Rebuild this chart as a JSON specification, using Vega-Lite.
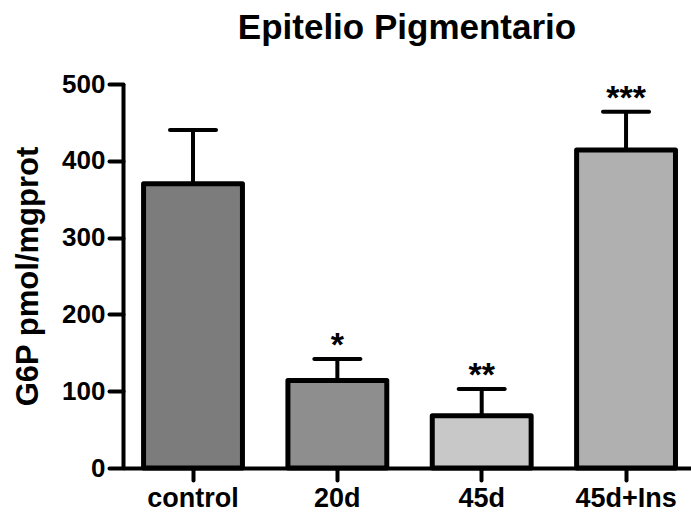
{
  "$schema": "https://vega.github.io/schema/vega-lite/v6.json",
  "width": 568,
  "height": 384,
  "autosize": "none",
  "padding": {"left": 123, "top": 84, "right": 0, "bottom": 46},
  "background": "white",
  "title": {
    "text": "Epitelio Pigmentario",
    "font": "Liberation Sans",
    "fontSize": 35,
    "fontWeight": "bold",
    "color": "black",
    "anchor": "middle",
    "offset": 25
  },
  "config": {
    "view": {"stroke": null},
    "font": "Liberation Sans"
  },
  "data": {
    "values": [
      {"group": "control", "mean": 370, "upper": 440, "sig": "", "fill": "#7c7c7c"},
      {"group": "20d", "mean": 114, "upper": 142, "sig": "*", "fill": "#8e8e8e"},
      {"group": "45d", "mean": 68, "upper": 103, "sig": "**", "fill": "#c8c8c8"},
      {"group": "45d+Ins", "mean": 414, "upper": 464, "sig": "***", "fill": "#b0b0b0"}
    ]
  },
  "encoding": {
    "x": {
      "field": "group",
      "type": "nominal",
      "sort": null,
      "scale": {"paddingInner": 0.315, "paddingOuter": 0.125, "align": 0.57},
      "axis": {
        "title": null,
        "labelAngle": 0,
        "labelFont": "Liberation Sans",
        "labelFontSize": 27,
        "labelFontWeight": "bold",
        "labelColor": "black",
        "labelPadding": 5,
        "domainColor": "black",
        "domainWidth": 4,
        "tickColor": "black",
        "tickWidth": 4,
        "tickSize": 12,
        "tickCap": "round"
      }
    }
  },
  "layer": [
    {
      "mark": {"type": "rule", "stroke": "black", "strokeWidth": 4},
      "encoding": {
        "y": {"field": "mean", "type": "quantitative"},
        "y2": {"field": "upper"}
      }
    },
    {
      "mark": {"type": "tick", "color": "black", "size": 50, "thickness": 4, "cornerRadius": 2, "opacity": 1},
      "encoding": {
        "y": {"field": "upper", "type": "quantitative"}
      }
    },
    {
      "mark": {"type": "bar", "stroke": "black", "strokeWidth": 5, "strokeJoin": "round"},
      "encoding": {
        "y": {
          "field": "mean",
          "type": "quantitative",
          "scale": {"domain": [0, 500], "nice": false},
          "axis": {
            "title": "G6P pmol/mgprot",
            "titleFont": "Liberation Sans",
            "titleFontSize": 31,
            "titleFontWeight": "bold",
            "titleColor": "black",
            "titleX": -79,
            "titleY": 192,
            "titleAngle": -90,
            "titleAlign": "center",
            "titleBaseline": "bottom",
            "values": [0, 100, 200, 300, 400, 500],
            "labelFont": "Liberation Sans",
            "labelFontSize": 26,
            "labelFontWeight": "bold",
            "labelColor": "black",
            "labelPadding": 4,
            "labelFlush": false,
            "domainColor": "black",
            "domainWidth": 4,
            "tickColor": "black",
            "tickWidth": 4,
            "tickSize": 14,
            "tickCap": "round",
            "grid": false
          }
        },
        "fill": {"field": "fill", "type": "nominal", "scale": null, "legend": null}
      }
    },
    {
      "mark": {"type": "text", "font": "Liberation Sans", "fontSize": 34, "fontWeight": "bold", "color": "black", "baseline": "alphabetic", "dy": -3},
      "encoding": {
        "y": {"field": "upper", "type": "quantitative"},
        "text": {"field": "sig"}
      }
    }
  ]
}
